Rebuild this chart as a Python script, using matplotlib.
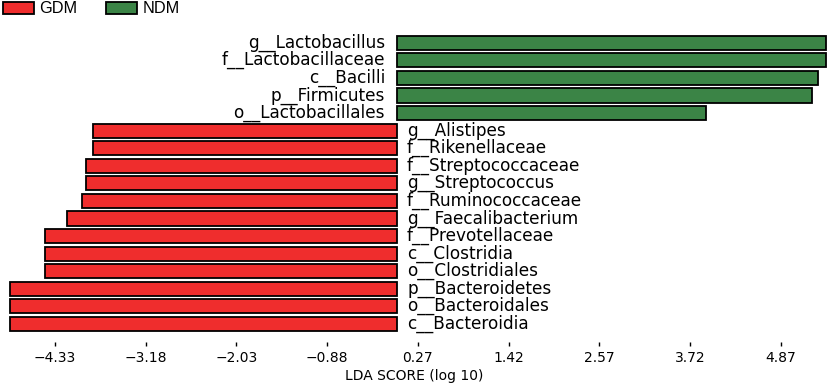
import matplotlib
matplotlib.use("Agg")
import matplotlib.pyplot as plt
from matplotlib.patches import Patch
import matplotlib.transforms as mtransforms

# Data (top to bottom as displayed)
taxa = ["g__Lactobacillus", "f__Lactobacillaceae", "c__Bacilli", "p__Firmicutes",
        "o__Lactobacillales", "g__Alistipes", "f__Rikenellaceae", "f__Streptococcaceae",
        "g__Streptococcus", "f__Ruminococcaceae", "g__Faecalibacterium", "f__Prevotellaceae",
        "c__Clostridia", "o__Clostridiales", "p__Bacteroidetes", "o__Bacteroidales",
        "c__Bacteroidia"]
lda = [5.44, 5.44, 5.34, 5.27, 3.92, -3.85, -3.85, -3.94, -3.94, -3.98, -4.17,
       -4.46, -4.46, -4.46, -4.90, -4.90, -4.90]
groups = ["NDM"] * 5 + ["GDM"] * 12
xticks = [-4.33, -3.18, -2.03, -0.88, 0.27, 1.42, 2.57, 3.72, 4.87]
colors = {"GDM": "#ef2d2d", "NDM": "#3b8446"}

fig = plt.figure(figsize=(8.29, 3.87), dpi=100)
W, H = 829, 387
ax = fig.add_axes([0, (H - 342) / H, 1.0, (342 - 34) / H])

n = len(taxa)
ypos = list(range(n - 1, -1, -1))
ax.barh(ypos, lda, height=0.8, color=[colors[g] for g in groups],
        edgecolor="black", linewidth=1.3)

for y, v, t in zip(ypos, lda, taxa):
    if v > 0:
        off = mtransforms.offset_copy(ax.transData, fig=fig, x=-8.2, y=0, units="points")
        ax.text(0, y, t, ha="right", va="center", fontsize=12.2, transform=off)
    else:
        off = mtransforms.offset_copy(ax.transData, fig=fig, x=7.6, y=0, units="points")
        ax.text(0, y, t, ha="left", va="center", fontsize=12.2, transform=off)

ax.set_xlim(-396.5 / 78.9, (829 - 396.5) / 78.9)
ax.set_ylim(-1.03, n - 0.5)
ax.set_xticks(xticks)
ax.set_xticklabels([f"{t:.2f}".replace("-", "\u2212") for t in xticks], fontsize=10)
ax.tick_params(axis="x", direction="out", length=3, width=1, pad=3.5)
ax.set_yticks([])
for s in ax.spines.values():
    s.set_visible(False)
ax.set_xlabel("LDA SCORE (log 10)", fontsize=10, labelpad=3)
ax.set_facecolor("none")

handles = [Patch(facecolor=colors["GDM"], edgecolor="black", linewidth=1.3, label="GDM"),
           Patch(facecolor=colors["NDM"], edgecolor="black", linewidth=1.3, label="NDM")]
fig.legend(handles=handles, loc="upper left", bbox_to_anchor=(0.0, 1.005), ncol=2,
           frameon=False, prop={"family": "Liberation Sans", "size": 11.7},
           handlelength=1.9, handleheight=0.75,
           handletextpad=0.3, columnspacing=1.8, borderaxespad=0, borderpad=0.2)

fig.savefig("out.png", dpi=100)
